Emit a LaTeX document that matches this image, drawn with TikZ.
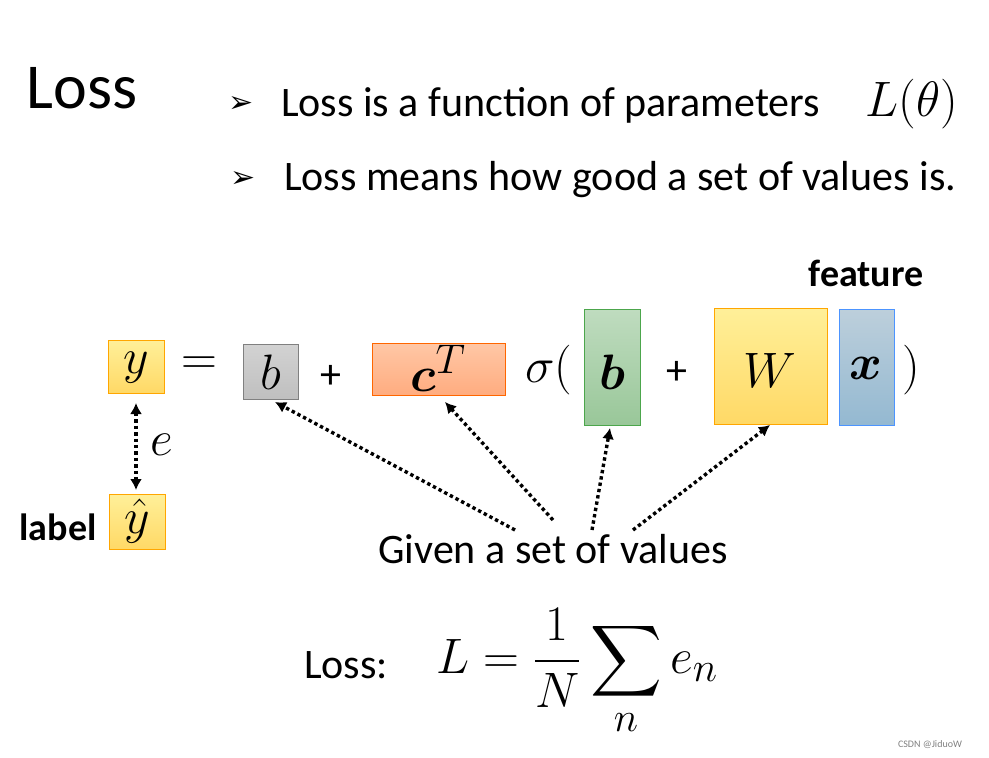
\documentclass[tikz,border=0pt]{standalone}
\usepackage{graphicx}
\usepackage{amsmath,bm}
\usepackage{fontspec}
\setmainfont{Carlito}
\newfontfamily\dvs{DejaVu Sans}
\usetikzlibrary{arrows.meta}
\newcommand{\Mth}[1]{\scalebox{2}{\fontsize{24.88}{28}\selectfont$#1$}}
\begin{document}
\begin{tikzpicture}[x=1pt,y=-1pt,
  dots/.style={line width=3.4pt,dash pattern=on 3.4pt off 3pt,-{Latex[length=11pt,width=12pt]}},
  txt/.style={font=\fontsize{42}{48}\selectfont,inner sep=0pt},
  mth/.style={inner sep=0pt}]
\useasboundingbox (0,0) rectangle (989,758);
\node[font=\fontsize{64}{70}\selectfont] (title) at (82,88) {Loss};
\node[font=\dvs\fontsize{30}{34}\selectfont] (b1) at (241,104) {➢};
\node[txt,anchor=west] (t1) at (281,105) {Loss is a function of parameters};
\node[mth] (lt) at (912,104) {\Mth{L(\theta)}};
\node[font=\dvs\fontsize{30}{34}\selectfont] (b2) at (243,179) {➢};
\node[txt,anchor=west] (t2) at (284,180) {Loss means how good a set of values is.};
\node[txt,font=\bfseries\fontsize{38}{42}\selectfont] (feat) at (866,273) {feature};
\node[txt,font=\bfseries\fontsize{38}{42}\selectfont] (lab) at (58,527) {label};
% boxes
\path[top color=orange!30!yellow!40!white,bottom color=orange!50!yellow!60!white,draw=orange!70!yellow,line width=0.8pt] (108,340) rectangle (164,393);
\node[mth] (y) at (136,368) {\Mth{y}};
\path[top color=orange!30!yellow!40!white,bottom color=orange!50!yellow!60!white,draw=orange!70!yellow,line width=0.8pt] (109,494) rectangle (165,549);
\node[mth] (yh) at (137,521) {\Mth{\hat{y}}};
\path[top color=gray!35,bottom color=gray!50,draw=gray,line width=0.8pt] (243,344) rectangle (298,399);
\node[mth] (b) at (271,372) {\Mth{b}};
\path[top color=red!25!orange!35!white,bottom color=red!30!orange!50!white,draw=orange!80!red,line width=0.8pt] (372,343) rectangle (505,395);
\node[mth] (c) at (438,368) {\Mth{\bm{c}^T}};
\path[top color=green!45!black!25!white,bottom color=green!45!black!40!white,draw=green!50!black!70,line width=0.8pt] (584,309) rectangle (640,425);
\node[mth] (bb) at (612,372) {\Mth{\bm{b}}};
\path[top color=orange!30!yellow!40!white,bottom color=orange!50!yellow!60!white,draw=orange!70!yellow,line width=0.8pt] (714,308) rectangle (827,424);
\node[mth] (W) at (770,370) {\Mth{W}};
\path[top color=blue!40!cyan!30!gray!40!white,bottom color=blue!40!cyan!40!gray!60!white,draw=blue!60!cyan!70,line width=0.8pt] (839,309) rectangle (894,425);
\node[mth] (x) at (866,368) {\Mth{\bm{x}}};
\node[mth] (eq) at (199,366) {\Mth{=}};
\node[txt] (p1) at (331,377) {+};
\node[mth] (sig) at (549,370) {\Mth{\sigma(}};
\node[txt] (p2) at (677,373) {+};
\node[mth] (cl) at (911,370) {\Mth{)}};
% e arrow
\coordinate (et) at (136,403);
\coordinate (eb) at (136,490);
\draw[dots,{Latex[length=11pt,width=12pt]}-{Latex[length=11pt,width=12pt]}] (et) -- (eb);
\node[mth] (e) at (162,445) {\Mth{e}};
% given
\node[txt] (g) at (553,549) {Given a set of values};
\coordinate (s1) at (515,530); \coordinate (e1) at (275,402);
\coordinate (s2) at (553,520); \coordinate (e2) at (445,402);
\coordinate (s3) at (592,530); \coordinate (e3) at (610,428);
\coordinate (s4) at (633,530); \coordinate (e4) at (770,425);
\draw[dots] (s1) -- (e1);
\draw[dots] (s2) -- (e2);
\draw[dots] (s3) -- (e3);
\draw[dots] (s4) -- (e4);
\node[txt] (loss) at (346,665) {Loss:};
\node[mth,anchor=west] (f) at (436,672) {\Mth{L=\dfrac{1}{N}\displaystyle\sum_n e_n}};
\node[font=\fontsize{10}{12}\selectfont,text=gray] (csdn) at (930,745) {CSDN @JiduoW};
\end{tikzpicture}
\end{document}
